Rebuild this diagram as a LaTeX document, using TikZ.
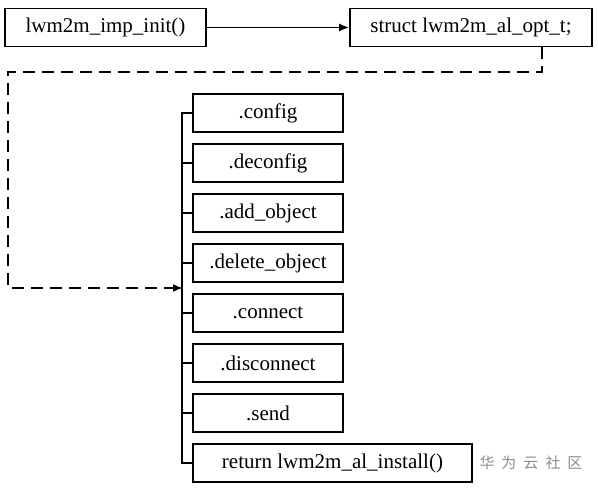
\documentclass[tikz,border=0pt]{standalone}
\usepackage{fontspec}
\setmainfont{Liberation Serif}
\newfontfamily\cjk{Noto Sans CJK SC}
\usetikzlibrary{positioning, arrows.meta}

\begin{document}
\begin{tikzpicture}[
    x = 1pt, y = -1pt,
    node distance = 10.4pt,
    box/.style = {
        draw, rectangle, line width=1.6pt, minimum width=150pt, minimum height=38pt,
        inner sep=0pt, font=\fontsize{21}{21}\selectfont
    },
    wire/.style = {line width=1.8pt},
    link/.style = {wire, -{Latex[length=10pt, width=8pt]}}
  ]
    \useasboundingbox (0,0) rectangle (598,488);
    \node[box, minimum width=201pt] (init) at (105.5,27.5) {lwm2m\_imp\_init()};
    \node[box, minimum width=242pt] (opt) at (471,27.5) {struct lwm2m\_al\_opt\_t;};
    \draw[link] (init) -- (opt);

    % 结构体成员
    \node[box] (config) at (268,113) {.config};
    \node[box, below=of config] (deconfig) {.deconfig};
    \node[box, below=of deconfig] (addobj) {.add\_object};
    \node[box, below=of addobj] (delobj) {.delete\_object};
    \node[box, below=of delobj] (connect) {.connect};
    \node[box, below=of connect] (disconnect) {.disconnect};
    \node[box, below=of disconnect] (send) {.send};
    \node[box, minimum width=279pt, below=of send.south west, anchor=north west] (install) {return lwm2m\_al\_install()};

    % 左侧总线
    \draw[wire] (config.west) -- ++(-10,0) |- (install.west);
    \foreach \m in {deconfig, addobj, delobj, connect, disconnect, send}
        \draw[wire] (\m.west) -- ++(-10,0);

    % 虚线指向总线
    \coordinate (bus) at (183,288);
    \draw[link, dash pattern=on 12pt off 7pt] ([xshift=71pt]opt.south) |- (8,72) |- (bus);

    \node[text=black!45, font=\cjk\fontsize{15}{15}\selectfont] (mark) at (531,463)
        {华\hspace{7pt}为\hspace{7pt}云\hspace{7pt}社\hspace{7pt}区};
\end{tikzpicture}
\end{document}
